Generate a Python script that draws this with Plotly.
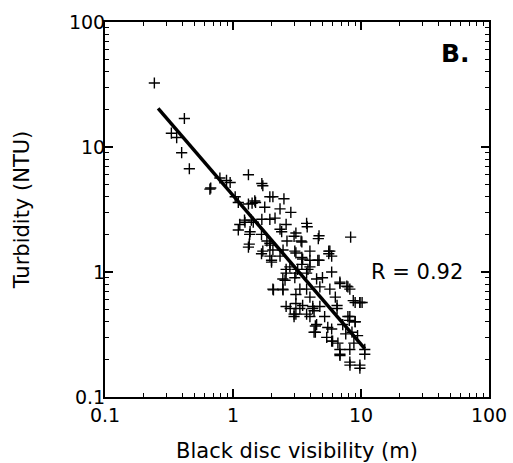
import numpy as np
import plotly.graph_objects as go

# Black disc visibility (m) and turbidity (NTU) observations
visibility = [
    0.243, 0.417, 0.33, 0.363, 0.397, 0.456, 0.66, 0.67, 0.79, 0.89, 0.95,
    1.32, 1.04, 1.10, 1.32, 1.48, 1.10, 1.35, 1.32, 1.67, 1.67, 1.95, 2.0,
    2.46, 3.0, 3.45, 3.8, 4.64, 8.3, 5.6, 2.07, 2.46, 2.55, 2.8, 3.0, 4.4,
    4.4, 5.2, 7.75, 6.85, 8.7, 9.8, 8.1, 9.0, 6.85, 8.2, 9.8, 10.7, 5.9,
    7.6, 1.24, 1.44,
    1.68, 1.71, 1.94, 2.05, 2.5, 1.5, 1.41, 1.77, 2.33, 2.83, 1.23, 1.39,
    1.68, 1.94, 2.13, 1.13, 2.6, 3.76, 1.36, 2.33, 2.4, 3.1, 4.7, 1.84,
    1.94, 2.64, 3.4, 1.34, 1.71, 2.05, 3.99, 3.1, 5.6, 2.0, 3.45, 3.99,
    4.7, 2.6, 3.2, 3.85,
    3.04, 5.71, 1.94, 2.33, 3.5, 4.6, 5.9, 2.78, 3.45, 3.99, 2.6, 3.1,
    3.76, 5.9, 2.45, 3.04, 4.5, 5.0, 2.05, 2.45, 3.33, 3.76, 4.77, 5.71,
    6.84, 7.9, 8.18, 3.1, 3.99, 6.3, 9.0, 10.2, 2.6, 3.33, 4.2, 6.5, 3.1,
    3.99, 8.18,
    3.1, 3.5, 4.2, 4.77, 3.0, 3.76, 4.3, 6.5, 9.8, 7.9, 9.0, 4.5, 4.3,
    5.5, 5.9, 7.2, 5.4, 6.0, 6.6, 8.5, 9.4, 6.84, 6.84, 8.18, 8.8, 10.7,
    8.18, 9.8,
]
turbidity = [
    32.5, 16.9, 12.9, 11.9, 9.0, 6.7, 4.6, 4.7, 5.65, 5.4, 5.2,
    6.0, 4.0, 3.6, 3.5, 3.7, 2.17, 2.0, 1.58, 2.0, 1.4, 1.64, 1.2,
    1.5, 1.93, 1.74, 2.3, 1.85, 1.9, 1.4, 0.72, 0.72, 0.86, 0.51, 0.46, 0.37,
    0.33, 0.44, 0.77, 0.81, 0.59, 0.57, 0.41, 0.40, 0.215, 0.18, 0.17, 0.22, 0.28,
    0.32, 2.5, 2.5,
    5.1, 4.9, 4.0, 4.0, 3.85, 3.6, 3.55, 3.3, 3.2, 3.0, 2.6, 2.6,
    2.64, 2.64, 2.7, 2.4, 2.4, 2.45, 2.1, 2.2, 2.1, 2.05, 1.95, 1.77,
    1.7, 1.77, 1.77, 1.67, 1.47, 1.5, 1.47, 1.42, 1.47, 1.24, 1.31, 1.24,
    1.24, 1.05, 1.05, 1.05,
    1.47, 1.47, 1.34, 1.34, 1.27, 1.24, 1.34, 1.1, 1.15, 1.1, 0.98, 0.98,
    0.98, 1.0, 0.88, 0.9, 0.88, 0.9, 0.73, 0.73, 0.73, 0.73, 0.76, 0.73,
    0.83, 0.76, 0.73, 0.66, 0.63, 0.63, 0.57, 0.57, 0.53, 0.51, 0.51, 0.51, 0.46,
    0.44, 0.44,
    0.56, 0.54, 0.53, 0.53, 0.44, 0.46, 0.49, 0.54, 0.57, 0.44, 0.40, 0.38, 0.33,
    0.36, 0.35, 0.38, 0.30, 0.28, 0.27, 0.33, 0.31, 0.24, 0.22, 0.24, 0.27, 0.24,
    0.19, 0.18,
]

# Power-law regression: turbidity = a * visibility^b
fit_a = 4.1
fit_b = -1.19
fit_range = [0.26, 10.7]
r_label = "R = 0.92"
panel_label = "B."

fit_x = np.logspace(np.log10(fit_range[0]), np.log10(fit_range[1]), 50)
fit_y = fit_a * fit_x ** fit_b

font_family = "DejaVu Sans, Liberation Sans, Arial, sans-serif"

fig = go.Figure()
fig.add_trace(go.Scatter(
    x=visibility, y=turbidity, mode="markers",
    marker=dict(symbol="cross-thin", size=8, color="black",
                line=dict(color="black", width=1.4)),
    showlegend=False,
))
fig.add_trace(go.Scatter(
    x=fit_x, y=fit_y, mode="lines",
    line=dict(color="black", width=3.5),
    showlegend=False,
))

axis_common = dict(
    type="log", showgrid=False, zeroline=False, automargin=False,
    showline=True, linecolor="black", linewidth=2, mirror="ticks",
    ticks="inside", ticklen=8, tickwidth=1.5, tickcolor="black",
    dtick=1, tickformat="~g",
    minor=dict(ticks="inside", ticklen=4, tickwidth=1.2, tickcolor="black", showgrid=False),
    tickfont=dict(family=font_family, size=19, color="black"),
    title_font=dict(family=font_family, size=21, color="black"),
)

fig.update_xaxes(range=[-1, 2], title_text="Black disc visibility (m)",
                 title_standoff=20, **axis_common)
fig.update_yaxes(range=[-1, 2], title_text="Turbidity (NTU)",
                 title_standoff=34, ticklabelstandoff=-6, **axis_common)

fig.add_annotation(x=0.8125, y=0.333, xref="paper", yref="paper",
                   xanchor="center", yanchor="middle",
                   text=r_label, showarrow=False,
                   font=dict(family=font_family, size=21, color="black"))
fig.add_annotation(x=0.914, y=0.915, xref="paper", yref="paper",
                   xanchor="center", yanchor="middle",
                   text="<b>" + panel_label + "</b>", showarrow=False,
                   font=dict(family=font_family, size=25, color="black"))

fig.update_layout(
    width=513, height=463,
    margin=dict(l=105, r=24, t=22, b=66),
    plot_bgcolor="white", paper_bgcolor="white",
)

fig.write_html("out.html")
